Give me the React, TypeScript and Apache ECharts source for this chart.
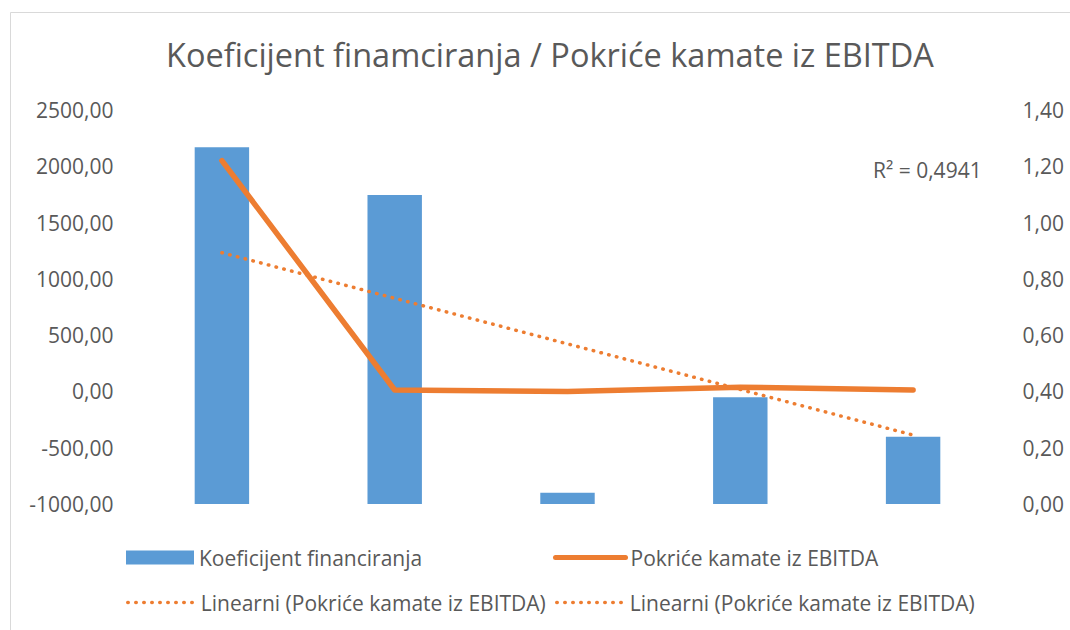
import React, { useEffect, useRef } from "react";
import * as echarts from "echarts";

const categories = ["1", "2", "3", "4", "5"];
const barValues = [2170, 1745, -900, -52, -402];
const lineValues = [1.22, 0.405, 0.4, 0.415, 0.405];
const leftTicks = { min: -1000, max: 2500, interval: 500 };
const rightTicks = { min: 0, max: 1.4, interval: 0.2 };
const barName = "Koeficijent financiranja";
const lineName = "Pokriće kamate iz EBITDA";
const trendName = "Linearni (Pokriće kamate iz EBITDA)";
const titleText = "Koeficijent finamciranja / Pokriće kamate iz EBITDA";
const r2Text = "R² = 0,4941";

// linear trendline (least squares) of the line series, as Excel does
function linearTrend(ys: number[]): number[] {
  const n = ys.length;
  const xs = ys.map((_, i) => i + 1);
  const mx = xs.reduce((a, b) => a + b, 0) / n;
  const my = ys.reduce((a, b) => a + b, 0) / n;
  let num = 0;
  let den = 0;
  for (let i = 0; i < n; i++) {
    num += (xs[i] - mx) * (ys[i] - my);
    den += (xs[i] - mx) * (xs[i] - mx);
  }
  const slope = num / den;
  return xs.map((x) => my + slope * (x - mx));
}

const FONT = "'Open Sans', 'Noto Sans', sans-serif";
const GREY = "#595959";
const BLUE = "#5B9BD5";
const ORANGE = "#ED7D31";

export default function App() {
  const ref = useRef<HTMLDivElement>(null);
  useEffect(() => {
    if (!ref.current) return;
    const chart = echarts.init(ref.current, null, { renderer: "svg" });
    const trend = linearTrend(lineValues);
    const fmt = (v: number) => v.toFixed(2).replace(".", ",");
    const legendText = { color: GREY, fontSize: 21, fontFamily: FONT };
    const dotted = { color: ORANGE, width: 3.5, type: [0.5, 7.5], cap: "round" };
    chart.setOption({
      animation: false,
      backgroundColor: "#ffffff",
      title: {
        text: titleText,
        left: 161,
        top: 33,
        textStyle: { color: GREY, fontSize: 32.5, fontWeight: "normal", fontFamily: FONT },
      },
      grid: { left: 135.5, right: 70.5, top: 110, bottom: 126 },
      xAxis: {
        type: "category",
        data: categories,
        boundaryGap: true,
        axisLine: { show: false },
        axisTick: { show: false },
        axisLabel: { show: false },
      },
      yAxis: [
        {
          type: "value",
          min: leftTicks.min,
          max: leftTicks.max,
          interval: leftTicks.interval,
          splitLine: { show: false },
          axisLine: { show: false },
          axisTick: { show: false },
          axisLabel: { color: GREY, fontSize: 21, fontFamily: FONT, margin: 22, formatter: fmt },
        },
        {
          type: "value",
          min: rightTicks.min,
          max: rightTicks.max,
          interval: rightTicks.interval,
          splitLine: { show: false },
          axisLine: { show: false },
          axisTick: { show: false },
          axisLabel: { color: GREY, fontSize: 21, fontFamily: FONT, margin: 23, formatter: fmt },
        },
      ],
      legend: [
        {
          left: 121,
          top: 542,
          itemWidth: 68,
          itemHeight: 14,
          textStyle: legendText,
          data: [{ name: barName, icon: "rect", itemStyle: { color: BLUE } }],
        },
        {
          left: 548,
          top: 542,
          itemWidth: 70,
          itemHeight: 14,
          textStyle: legendText,
          itemStyle: { opacity: 0 },
          lineStyle: { color: ORANGE, width: 5, cap: "round" },
          data: [{ name: lineName }],
        },
        {
          left: 121,
          top: 587,
          itemWidth: 68,
          itemHeight: 14,
          textStyle: legendText,
          itemStyle: { opacity: 0 },
          lineStyle: dotted,
          data: [{ name: trendName }],
        },
        {
          left: 550,
          top: 587,
          itemWidth: 68,
          itemHeight: 14,
          textStyle: legendText,
          itemStyle: { opacity: 0 },
          lineStyle: dotted,
          data: [{ name: trendName }],
        },
      ],
      graphic: [
        {
          type: "rect",
          shape: { x: 10.5, y: 12.5, width: 1080, height: 640 },
          style: { fill: "none", stroke: "#d9d9d9", lineWidth: 1 },
          silent: true,
        },
        {
          type: "text",
          left: 873,
          top: 159,
          style: { text: r2Text, fill: GREY, font: `21px ${FONT}` },
        },
      ],
      series: [
        {
          name: barName,
          type: "custom",
          yAxisIndex: 0,
          itemStyle: { color: BLUE },
          encode: { x: 0, y: 1 },
          data: barValues.map((v, i) => [i, v]),
          renderItem: (params: any, api: any) => {
            const x = api.value(0);
            const v = api.value(1);
            const top = api.coord([x, v]);
            const base = api.coord([x, leftTicks.min]);
            const w = api.size([1, 0])[0] * 0.315;
            return {
              type: "rect",
              shape: { x: top[0] - w / 2, y: top[1], width: w, height: base[1] - top[1] },
              style: { fill: BLUE },
            };
          },
        },
        {
          name: lineName,
          type: "line",
          yAxisIndex: 1,
          data: lineValues,
          symbol: "none",
          itemStyle: { color: ORANGE },
          lineStyle: { color: ORANGE, width: 5.5, cap: "round", join: "round" },
        },
        {
          name: trendName,
          type: "line",
          yAxisIndex: 1,
          data: trend,
          symbol: "none",
          itemStyle: { color: ORANGE },
          lineStyle: dotted,
        },
      ],
    });
    return () => chart.dispose();
  }, []);
  return (
    <div
      ref={ref}
      style={{ position: "fixed", left: 0, top: 0, width: 1070, height: 630 }}
    />
  );
}
